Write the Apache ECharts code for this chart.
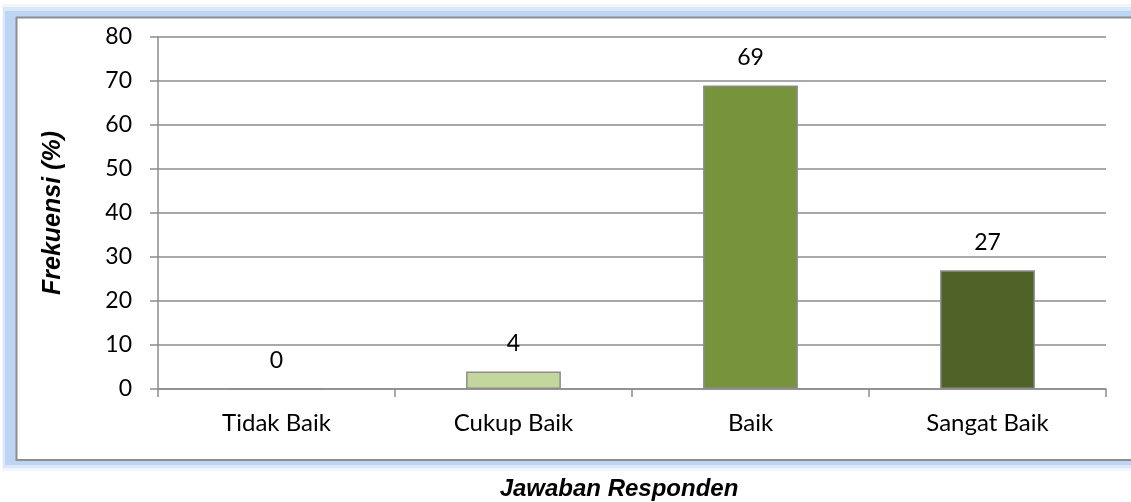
<!DOCTYPE html>
<html>
<head>
<meta charset="utf-8">
<script src="https://cdn.jsdelivr.net/npm/echarts@6/dist/echarts.min.js"></script>
<style>
html,body{margin:0;padding:0;background:#fff;overflow:hidden;}
#c{width:1131px;height:502px;}
</style>
</head>
<body>
<div id="c"></div>
<script>
const categories = ['Tidak Baik', 'Cukup Baik', 'Baik', 'Sangat Baik'];
const values = [0, 4, 69, 27];
const barColors = ['#C3D69B', '#C3D69B', '#77933C', '#4F6228'];
const yTicks = [0, 10, 20, 30, 40, 50, 60, 70, 80];

const chart = echarts.init(document.getElementById('c'));
chart.setOption({
  animation: false,
  graphic: [
    { type: 'rect', z: -10, shape: { x: 2, y: 4, width: 1135, height: 467 },
      style: { fill: '#F2F6FC' } },
    { type: 'rect', z: -10, shape: { x: 3, y: 7, width: 1135, height: 461 },
      style: { fill: '#D9E7F9' } },
    { type: 'rect', z: -9, shape: { x: 5, y: 11, width: 1130, height: 454 },
      style: { fill: '#BCD5F3' } },
    { type: 'rect', z: -8, shape: { x: 16.5, y: 17.5, width: 1120, height: 442.5 },
      style: { fill: '#ffffff', stroke: '#8E8E8E', lineWidth: 2 } }
  ],
  grid: { left: 158, top: 37, right: 25, bottom: 113, outerBoundsMode: 'none', containLabel: false },
  xAxis: {
    type: 'category',
    data: categories,
    name: 'Jawaban Responden',
    nameLocation: 'middle',
    nameGap: 88,
    nameTextStyle: { fontFamily: 'Liberation Sans', fontWeight: 'bold', fontStyle: 'italic', fontSize: 24, color: '#000', padding: [0, 26, 0, 0] },
    axisLine: { lineStyle: { color: '#8C8C8C', width: 1.5 } },
    axisTick: { show: true, length: 8, lineStyle: { color: '#8C8C8C', width: 1.5 } },
    axisLabel: { fontFamily: 'Lato', fontSize: 24, color: '#000', margin: 22 }
  },
  yAxis: {
    type: 'value',
    min: 0, max: 80, interval: 10,
    name: 'Frekuensi (%)',
    nameLocation: 'middle',
    nameGap: 92,
    nameTextStyle: { fontFamily: 'Liberation Sans', fontWeight: 'bold', fontStyle: 'italic', fontSize: 25, color: '#000' },
    axisLine: { show: true, lineStyle: { color: '#8C8C8C', width: 1.5 } },
    axisTick: { show: true, length: 8, inside: false, lineStyle: { color: '#8C8C8C', width: 1.5 } },
    splitLine: { lineStyle: { color: '#8C8C8C', width: 1.5 } },
    axisLabel: { fontFamily: 'Lato', fontSize: 23, color: '#000', margin: 26,
      formatter: v => yTicks.includes(v) ? String(v) : '' }
  },
  series: [{
    type: 'bar',
    barWidth: '40%',
    data: values.map((v, i) => ({ value: v, itemStyle: { color: barColors[i] } })),
    itemStyle: { borderColor: '#8C8C8C', borderWidth: 1.5 },
    label: { show: true, position: 'top', distance: 16, fontFamily: 'Lato', fontSize: 23, color: '#000' }
  }]
});
</script>
</body>
</html>
